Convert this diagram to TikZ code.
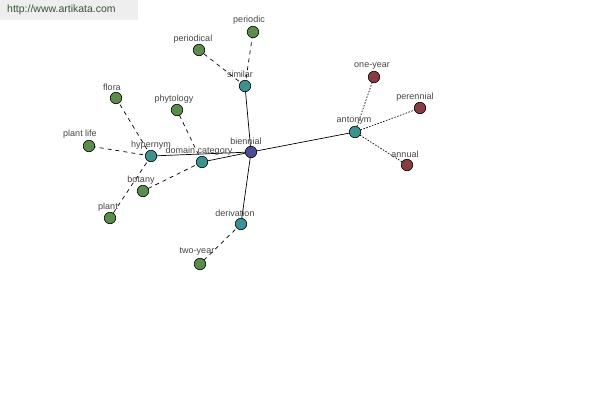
\documentclass[tikz,border=0pt]{standalone}
\usepackage{fontspec}
\setmainfont{Liberation Sans}
\usetikzlibrary{backgrounds}
\definecolor{cgr}{RGB}{90,140,75}
\definecolor{ctl}{RGB}{60,145,145}
\definecolor{crd}{RGB}{135,60,65}
\definecolor{cbl}{RGB}{75,75,150}
\definecolor{ctext}{RGB}{70,70,70}
\definecolor{wmbg}{RGB}{238,238,238}
\definecolor{wmtext}{RGB}{55,85,55}
\begin{document}
\begin{tikzpicture}[x=1pt,y=-1pt,
  vert/.style={circle,draw=black,line width=0.6pt,minimum size=11.5pt,inner sep=0pt},
  cgreen/.style={vert,fill=cgr},
  cteal/.style={vert,fill=ctl},
  cred/.style={vert,fill=crd},
  cblue/.style={vert,fill=cbl},
  lbl/.style={font=\fontsize{9}{10}\selectfont,text=ctext,inner sep=0pt},
  solidedge/.style={draw=black,line width=0.7pt},
  dashedge/.style={draw=black,line width=0.7pt,dash pattern=on 4pt off 4pt},
  dotedge/.style={draw=black,line width=0.7pt,dash pattern=on 1.5pt off 1.5pt}]
\useasboundingbox (0,0) rectangle (600,400);
% nodes
\node[cblue] (biennial) at (251,152) {};
\node[cteal] (similar) at (245,86) {};
\node[cgreen] (periodic) at (253,32) {};
\node[cgreen] (periodical) at (199,50) {};
\node[cteal] (antonym) at (355,132) {};
\node[cred] (oneyear) at (374,77) {};
\node[cred] (perennial) at (420,108) {};
\node[cred] (annual) at (407,165) {};
\node[cteal] (hypernym) at (151,156) {};
\node[cgreen] (flora) at (116,98) {};
\node[cgreen] (plantlife) at (89,146) {};
\node[cgreen] (plant) at (110,218) {};
\node[cteal] (domcat) at (202,162) {};
\node[cgreen] (phytology) at (177,110) {};
\node[cgreen] (botany) at (143,191) {};
\node[cteal] (derivation) at (241,224) {};
\node[cgreen] (twoyear) at (200,264) {};
\begin{pgfonlayer}{background}
\fill[white] (0,0) rectangle (600,400);
\fill[wmbg] (0,0) rectangle (138,20);
\path[solidedge] (biennial.center) -- (similar.center);
\path[solidedge] (biennial.center) -- (antonym.center);
\path[solidedge] (biennial.center) -- (hypernym.center);
\path[solidedge] (biennial.center) -- (domcat.center);
\path[solidedge] (biennial.center) -- (derivation.center);
\path[dashedge] (similar.center) -- (periodic.center);
\path[dashedge] (similar.center) -- (periodical.center);
\path[dotedge] (antonym.center) -- (oneyear.center);
\path[dotedge] (antonym.center) -- (perennial.center);
\path[dotedge] (antonym.center) -- (annual.center);
\path[dashedge] (hypernym.center) -- (flora.center);
\path[dashedge] (hypernym.center) -- (plantlife.center);
\path[dashedge] (hypernym.center) -- (plant.center);
\path[dashedge] (domcat.center) -- (phytology.center);
\path[dashedge] (domcat.center) -- (botany.center);
\path[dashedge] (derivation.center) -- (twoyear.center);
\end{pgfonlayer}
\node[font=\fontsize{10.5}{12}\selectfont,text=wmtext,anchor=west,inner sep=0pt] (wm) at (7,10) {http://www.artikata.com};
% labels
\node[lbl] (l1) at (246,141) {biennial};
\node[lbl] (l2) at (240,74) {similar};
\node[lbl] (l3) at (249,20) {periodic};
\node[lbl] (l4) at (193,39) {periodical};
\node[lbl] (l5) at (354,121) {antonym};
\node[lbl] (l6) at (372,66) {one-year};
\node[lbl] (l7) at (415,97) {perennial};
\node[lbl] (l8) at (405,154) {annual};
\node[lbl] (l9) at (151,145) {hypernym};
\node[lbl] (l10) at (112,87) {flora};
\node[lbl] (l11) at (80,134) {plant life};
\node[lbl] (l12) at (108,207) {plant};
\node[lbl] (l13) at (199,151) {domain category};
\node[lbl] (l14) at (174,99) {phytology};
\node[lbl] (l15) at (141,180) {botany};
\node[lbl] (l16) at (235,213) {derivation};
\node[lbl] (l17) at (197,252) {two-year};
\end{tikzpicture}
\end{document}
